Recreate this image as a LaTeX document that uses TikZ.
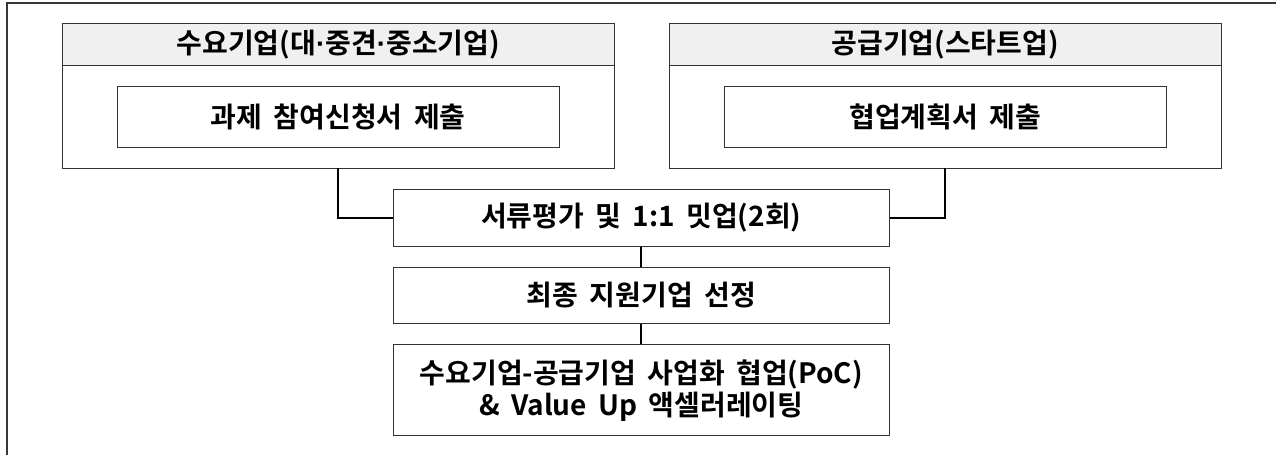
\documentclass[tikz,border=0pt]{standalone}
\usepackage{fontspec}
\setmainfont{Noto Sans CJK KR}[BoldFont={* Bold}, WordSpace={1.8}]
\newfontfamily\dotfont{Liberation Sans}[BoldFont={* Bold}]
\newcommand{\mdot}{{\dotfont\bfseries ·}}
\begin{document}
\begin{tikzpicture}[x=1pt,y=-1pt,
  boxline/.style={draw=black!80,line width=1pt},
  grpbox/.style={boxline,fill=white},
  hdrbox/.style={boxline,fill=black!6},
  lbl/.style={font=\fontsize{28}{32}\selectfont\bfseries,align=center,inner sep=0pt},
  stepbox/.style={boxline,fill=white},
  conn/.style={draw=black,line width=2.2pt},
  frameline/.style={draw=black!78,line width=1.7pt}]
\useasboundingbox (0,0) rectangle (1276,455);
% outer frame (only top and left visible)
\draw[frameline] (1276,2.7) -- (6.7,2.7) -- (6.7,455);
% left group
\draw[grpbox] (62.3,23.3) rectangle (614.3,168.3);
\draw[hdrbox] (62.3,23.3) rectangle (614.3,65.3);
\node[lbl] (lh) at (338.3,44.5) {수요기업(대\mdot 중견\mdot 중소기업)};
\draw[stepbox] (117.3,86.7) rectangle (559,147);
\node[lbl] (li) at (338.3,117) {과제 참여신청서 제출};
\coordinate (lb) at (338.3,168.3);
% right group
\draw[grpbox] (669.3,23.3) rectangle (1221,168.3);
\draw[hdrbox] (669.3,23.3) rectangle (1221,65.3);
\node[lbl] (rh) at (945.2,44.5) {공급기업(스타트업)};
\draw[stepbox] (724.3,86.7) rectangle (1166,147);
\node[lbl] (ri) at (945.2,117) {협업계획서 제출};
\coordinate (rb) at (945.2,168.3);
% flow boxes
\node[stepbox,minimum width=496pt,minimum height=56.7pt,inner sep=0pt] (b1) at (641.3,217.7) {};
\node[lbl] (b1t) at (b1) {서류평가 및 1:1 밋업(2회)};
\node[stepbox,minimum width=496pt,minimum height=56pt,inner sep=0pt] (b2) at (641.3,295.3) {};
\node[lbl] (b2t) at (b2) {최종 지원기업 선정};
\node[stepbox,minimum width=496pt,minimum height=91pt,inner sep=0pt] (b3) at (641.3,390.2) {};
\node[lbl] (b3t) at (641.3,391) {수요기업-공급기업 사업화 협업(PoC)\\\& Value Up 액셀러레이팅};
% connectors
\draw[conn] (lb) |- (b1.west);
\draw[conn] (rb) |- (b1.east);
\draw[conn,line width=1.8pt] (b1.south) -- (b2.north);
\draw[conn,line width=1.8pt] (b2.south) -- (b3.north);
\end{tikzpicture}
\end{document}
